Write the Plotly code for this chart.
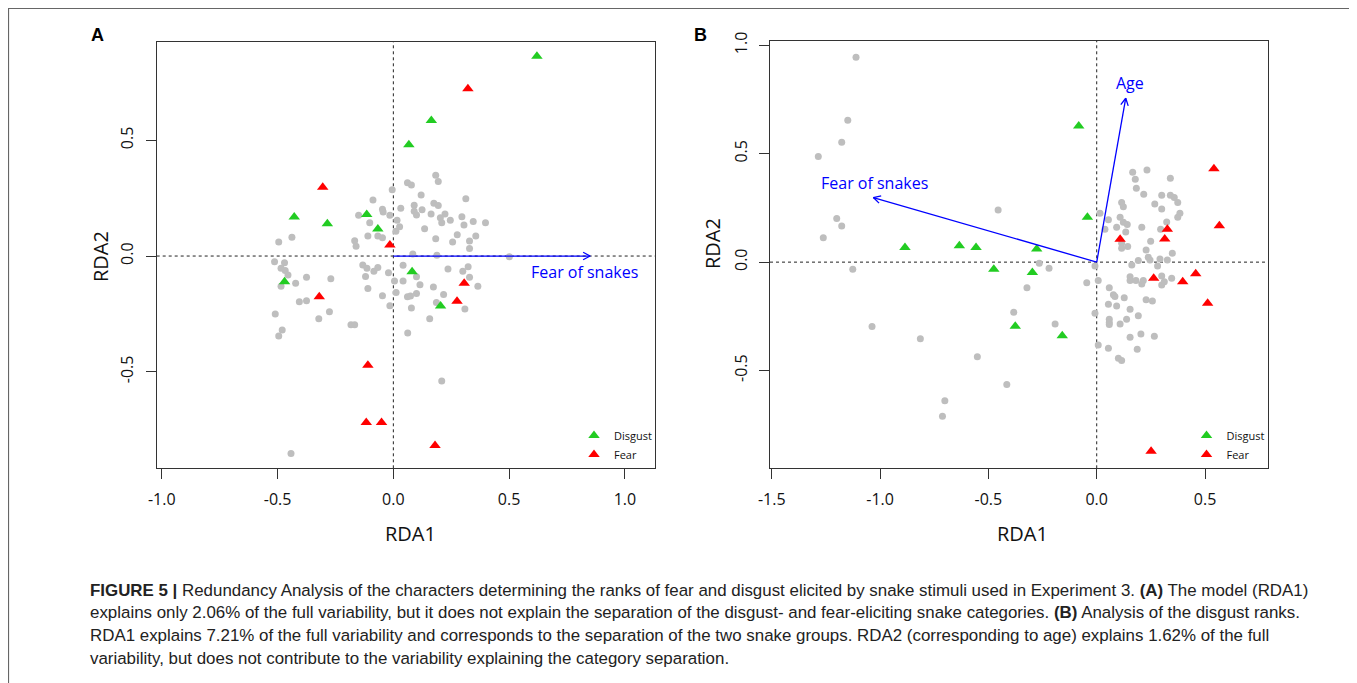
import numpy as np
import plotly.graph_objects as go

# ---------------- data ----------------
# Panel A (fear ranks)
a_grey_x = [0.183, 0.194, 0.061, 0.078, -0.005, 0.120, -0.088, 0.313, 0.175, 0.194, 0.090, 0.032, -0.047,
            -0.044, 0.124, 0.090, 0.100, -0.150, -0.015, 0.163, 0.223, 0.296, 0.203, 0.016, -0.102, 0.209,
            0.246, 0.345, 0.398, 0.305, 0.027, 0.135, 0.011, -0.110, -0.067, -0.047, 0.183, 0.276, 0.356,
            -0.495, -0.438, -0.167, -0.161, 0.256, 0.329, 0.329, 0.084, 0.188, 0.501,
            -0.513, -0.470, -0.485, -0.467, -0.455, -0.485, -0.422, -0.375, -0.270, -0.406, -0.375, -0.276,
            -0.510, -0.322, -0.480, -0.495, -0.183, -0.167, -0.132, -0.114, -0.067, -0.084, -0.120, -0.021,
            0.005, 0.042, 0.042, -0.110, -0.047, 0.012, -0.015, 0.100, 0.115, 0.173, 0.100, 0.061, 0.074,
            0.217, 0.078, 0.157, 0.186, 0.236, 0.323, 0.300, 0.329, 0.365, 0.309, 0.062, 0.209, -0.442]
a_grey_y = [0.349, 0.322, 0.317, 0.307, 0.286, 0.264, 0.242, 0.248, 0.228, 0.218, 0.219, 0.206, 0.202,
            0.190, 0.200, 0.193, 0.177, 0.176, 0.176, 0.182, 0.182, 0.170, 0.165, 0.155, 0.144, 0.144,
            0.155, 0.149, 0.144, 0.134, 0.127, 0.118, 0.107, 0.087, 0.087, 0.079, 0.075, 0.092, 0.087,
            0.061, 0.081, 0.066, 0.042, 0.061, 0.065, 0.033, 0.009, 0.003, -0.003,
            -0.025, -0.029, -0.053, -0.063, -0.082, -0.130, -0.118, -0.092, -0.098, -0.198, -0.193, -0.241,
            -0.250, -0.271, -0.319, -0.345, -0.297, -0.297, -0.039, -0.053, -0.049, -0.066, -0.088, -0.072,
            -0.108, -0.040, -0.108, -0.140, -0.172, -0.157, -0.215, -0.089, -0.124, -0.134, -0.162, -0.176, -0.173,
            -0.166, -0.224, -0.271, -0.201, -0.056, -0.046, -0.066, -0.092, -0.130, -0.229, -0.333, -0.540, -0.853]
a_disgust_x = [0.620, 0.164, 0.067, -0.428, -0.285, -0.115, -0.067, -0.470, 0.081, 0.204]
a_disgust_y = [0.863, 0.586, 0.481, 0.169, 0.139, 0.180, 0.117, -0.111, -0.068, -0.216]
a_fear_x = [0.322, -0.305, -0.015, -0.320, 0.306, 0.275, -0.110, -0.117, -0.051, 0.180]
a_fear_y = [0.723, 0.297, 0.048, -0.176, -0.118, -0.195, -0.472, -0.719, -0.719, -0.818]
a_arrow_names = ["Fear of snakes"]
a_arrow_x = [0.850]
a_arrow_y = [0.0]
a_label_x = [0.825]
a_label_y = [-0.068]

# Panel B (disgust ranks)
b_grey_x = [-1.111, -1.149, -1.177, -1.285, -1.200, -1.177, -1.262, -0.455, 0.166, 0.232, 0.178, 0.340,
            0.183, 0.217, 0.300, 0.340, 0.358, 0.374, 0.268, 0.300, 0.115, 0.123, 0.384, 0.374, 0.015,
            0.054, 0.108, 0.123, 0.141, 0.323, 0.092, 0.038, 0.134, 0.208, 0.295, 0.115, 0.143, 0.115,
            0.249, 0.228, 0.349, 0.192, 0.238, 0.246, 0.292, 0.326, 0.281, 0.162, -0.265, -0.220, -0.008,
            -1.126, -0.046, 0.007, -0.322, 0.058, 0.077, 0.084, 0.127, 0.054, 0.092, 0.154, 0.154, 0.181,
            0.208, 0.215, 0.300, 0.300, 0.312, 0.346, 0.228, 0.257, 0.154, 0.192, -0.008, 0.058, 0.058,
            0.058, 0.108, 0.138, 0.204, 0.154, 0.266, 0.007, 0.054, 0.187, 0.100, 0.115, -0.383, -0.192,
            -1.037, -0.814, -0.551, -0.415, -0.701, -0.712]
b_grey_y = [0.945, 0.654, 0.553, 0.487, 0.201, 0.167, 0.112, 0.241, 0.415, 0.425, 0.382, 0.387,
            0.341, 0.313, 0.308, 0.308, 0.298, 0.275, 0.268, 0.245, 0.275, 0.256, 0.225, 0.207, 0.225,
            0.195, 0.207, 0.184, 0.173, 0.185, 0.161, 0.152, 0.139, 0.161, 0.152, 0.087, 0.072, 0.064,
            0.096, 0.056, 0.041, 0.007, 0.023, 0.010, 0.015, 0.010, -0.018, -0.013, -0.005, -0.028, -0.018,
            -0.033, -0.095, -0.085, -0.118, -0.118, -0.151, -0.159, -0.164, -0.194, -0.202, -0.067, -0.085, -0.085,
            -0.101, -0.085, -0.064, -0.105, -0.090, -0.074, -0.174, -0.179, -0.217, -0.247, -0.236, -0.263, -0.279,
            -0.288, -0.285, -0.263, -0.331, -0.346, -0.342, -0.382, -0.397, -0.402, -0.443, -0.454, -0.231, -0.285,
            -0.297, -0.353, -0.437, -0.565, -0.639, -0.711]
b_disgust_x = [-0.083, -0.043, -0.885, -0.634, -0.557, -0.277, -0.475, -0.297, -0.376, -0.159]
b_disgust_y = [0.628, 0.207, 0.067, 0.075, 0.067, 0.061, -0.033, -0.048, -0.296, -0.340]
b_fear_x = [0.541, 0.566, 0.326, 0.314, 0.108, 0.263, 0.397, 0.457, 0.512, 0.251]
b_fear_y = [0.431, 0.168, 0.152, 0.107, 0.106, -0.074, -0.090, -0.054, -0.190, -0.872]
b_arrow_names = ["Age", "Fear of snakes"]
b_arrow_x = [0.134, -1.031]
b_arrow_y = [0.756, 0.298]
b_label_x = [0.154, -1.026]
b_label_y = [0.825, 0.364]

a_xticks = [-1.0, -0.5, 0.0, 0.5, 1.0]
a_yticks = [-0.5, 0.0, 0.5]
b_xticks = [-1.5, -1.0, -0.5, 0.0, 0.5]
b_yticks = [-0.5, 0.0, 0.5, 1.0]

caption_lines = [
    "<b>FIGURE 5 |</b> Redundancy Analysis of the characters determining the ranks of fear and disgust elicited by snake stimuli used in Experiment 3. <b>(A)</b> The model (RDA1)",
    "explains only 2.06% of the full variability, but it does not explain the separation of the disgust- and fear-eliciting snake categories. <b>(B)</b> Analysis of the disgust ranks.",
    "RDA1 explains 7.21% of the full variability and corresponds to the separation of the two snake groups. RDA2 (corresponding to age) explains 1.62% of the full",
    "variability, but does not contribute to the variability explaining the category separation.",
]

# ---------------- layout helpers ----------------
OFF = 8  # browser body margin
W, H = 1357 - OFF, 683 - OFF


def px(xp):
    return (xp - OFF) / W


def py(yp):
    return 1 - (yp - OFF) / H


GREY = "#BEBEBE"
GREEN = "#22CC22"
RED = "#FF0000"
BLUE = "#0000FF"
TICKFONT = dict(family="Open Sans", size=16, color="#111")

fig = go.Figure()


def add_panel(xa, ya, gx, gy, dx, dy, fx, fy, legend):
    fig.add_trace(go.Scatter(x=gx, y=gy, mode="markers", xaxis=xa, yaxis=ya, showlegend=False,
                             marker=dict(color=GREY, size=7, line=dict(width=0))))
    fig.add_trace(go.Scatter(x=dx, y=dy, mode="markers", xaxis=xa, yaxis=ya, name="Disgust", legend=legend,
                             marker=dict(color=GREEN, size=10, symbol="triangle-up", line=dict(width=0))))
    fig.add_trace(go.Scatter(x=fx, y=fy, mode="markers", xaxis=xa, yaxis=ya, name="Fear", legend=legend,
                             marker=dict(color=RED, size=10, symbol="triangle-up", line=dict(width=0))))


def add_arrows(xa, ya, ex_list, ey_list, head_len):
    xs, ys = [], []
    for ex, ey in zip(ex_list, ey_list):
        v = np.array([ex, ey])
        d = v / np.linalg.norm(v)
        xs += [0, ex, None]
        ys += [0, ey, None]
        for ang in (np.deg2rad(28), -np.deg2rad(28)):
            r = np.array([[np.cos(ang), -np.sin(ang)], [np.sin(ang), np.cos(ang)]])
            h = v - head_len * (r @ d)
            xs += [h[0], ex, None]
            ys += [h[1], ey, None]
    fig.add_trace(go.Scatter(x=xs, y=ys, mode="lines", xaxis=xa, yaxis=ya, showlegend=False,
                             line=dict(color=BLUE, width=1.3), hoverinfo="skip"))


add_panel("x", "y", a_grey_x, a_grey_y, a_disgust_x, a_disgust_y, a_fear_x, a_fear_y, "legend")
add_arrows("x", "y", a_arrow_x, a_arrow_y, 8 / 231.5)
add_panel("x2", "y2", b_grey_x, b_grey_y, b_disgust_x, b_disgust_y, b_fear_x, b_fear_y, "legend2")
add_arrows("x2", "y2", b_arrow_x, b_arrow_y, 8 / 216.7)

axis_common = dict(showgrid=False, zeroline=False, showline=True, mirror=True, linecolor="#333",
                   linewidth=1, ticks="outside", ticklen=10, tickcolor="#333", tickfont=TICKFONT,
                   ticklabelstandoff=6, automargin=False)

fig.update_layout(
    width=W, height=H, margin=dict(l=0, r=0, t=0, b=0, autoexpand=False),
    paper_bgcolor="white", plot_bgcolor="white",
    xaxis=dict(domain=[px(156.7), px(655)], range=[-1.022, 1.130], anchor="y",
               tickvals=a_xticks, ticktext=[f"{v:.1f}" for v in a_xticks], **axis_common),
    yaxis=dict(domain=[py(468.3), py(41.7)], range=[-0.917, 0.926], anchor="x",
               tickvals=a_yticks, ticktext=[f"{v:.1f}" for v in a_yticks], tickangle=-90, **axis_common),
    xaxis2=dict(domain=[px(770), px(1268.3)], range=[-1.508, 0.792], anchor="y2",
                tickvals=b_xticks, ticktext=[f"{v:.1f}" for v in b_xticks], **axis_common),
    yaxis2=dict(domain=[py(468.3), py(41)], range=[-0.951, 1.020], anchor="x2",
                tickvals=b_yticks, ticktext=[f"{v:.1f}" for v in b_yticks], tickangle=-90, **axis_common),
    legend=dict(x=px(574), y=py(421), xanchor="left", yanchor="top", bgcolor="rgba(0,0,0,0)",
                font=dict(family="Open Sans", size=11, color="#111"), tracegroupgap=0),
    legend2=dict(x=px(1186.5), y=py(421), xanchor="left", yanchor="top", bgcolor="rgba(0,0,0,0)",
                 font=dict(family="Open Sans", size=11, color="#111"), tracegroupgap=0),
    hovermode=False,
)

shapes = []
for xa, ya in (("x", "y"), ("x2", "y2")):
    shapes.append(dict(type="line", xref=xa, yref=f"{ya} domain", x0=0, x1=0, y0=0, y1=1,
                       line=dict(color="#222", width=1, dash="dot"), layer="below"))
    shapes.append(dict(type="line", xref=f"{xa} domain", yref=ya, x0=0, x1=1, y0=0, y1=0,
                       line=dict(color="#222", width=1, dash="dot"), layer="below"))
# outer frame of the figure
shapes.append(dict(type="rect", xref="paper", yref="paper", x0=px(8.5), x1=px(1355), y0=py(720), y1=py(8.5),
                   line=dict(color="#666", width=1.2), fillcolor="rgba(0,0,0,0)"))
fig.update_layout(shapes=shapes)

C = dict(xanchor="center", yanchor="middle", showarrow=False)
ann = []
for name, lx, ly in zip(a_arrow_names, a_label_x, a_label_y):
    ann.append(dict(x=lx, y=ly, xref="x", yref="y", text=name, **C,
                    font=dict(family="Open Sans", size=16, color=BLUE)))
for name, lx, ly in zip(b_arrow_names, b_label_x, b_label_y):
    ann.append(dict(x=lx, y=ly, xref="x2", yref="y2", text=name, **C,
                    font=dict(family="Open Sans", size=16, color=BLUE)))
title_font = dict(family="Open Sans", size=20, color="#111")
ann += [
    dict(x=px(410), y=py(533), xref="paper", yref="paper", text="RDA1", **C, font=title_font),
    dict(x=px(1022), y=py(533), xref="paper", yref="paper", text="RDA1", **C, font=title_font),
    dict(x=px(100), y=py(256), xref="paper", yref="paper", text="RDA2", **C, font=title_font, textangle=-90),
    dict(x=px(712), y=py(244), xref="paper", yref="paper", text="RDA2", **C, font=title_font, textangle=-90),
    dict(x=px(97), y=py(35), xref="paper", yref="paper", text="<b>A</b>", **C,
         font=dict(family="Liberation Sans", size=18, color="#000")),
    dict(x=px(700), y=py(35), xref="paper", yref="paper", text="<b>B</b>", **C,
         font=dict(family="Liberation Sans", size=18, color="#000")),
]
for i, line in enumerate(caption_lines):
    ann.append(dict(x=px(88), y=py(590 + i * 22.8), xref="paper", yref="paper", text=line, showarrow=False,
                    xanchor="left", yanchor="middle",
                    font=dict(family="Liberation Sans", size=16.9, color="#222")))
fig.update_layout(annotations=ann)

fig.write_html("out.html")
